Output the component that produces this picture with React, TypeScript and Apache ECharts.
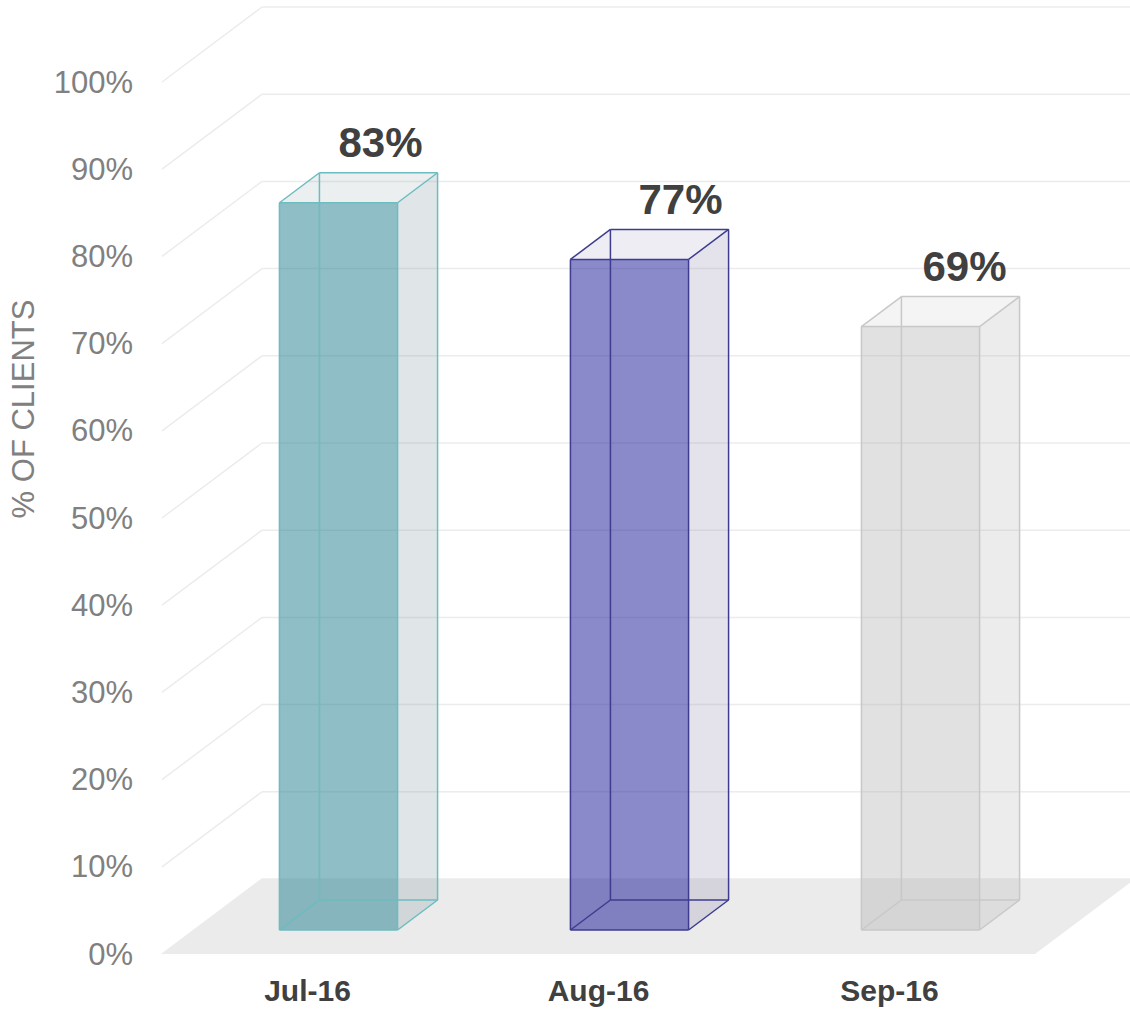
import React, { useEffect, useRef } from "react";
import * as echarts from "echarts";

const categories = ["Jul-16", "Aug-16", "Sep-16"];
const values = [83.4, 76.9, 69.2];
const yTicks = [0, 10, 20, 30, 40, 50, 60, 70, 80, 90, 100];
const yTitle = "% OF CLIENTS";

const frontFills = ["rgba(51,137,151,0.55)", "rgba(21,19,147,0.5)", "rgba(180,180,180,0.4)"];
const sideFills = ["rgba(131,155,159,0.25)", "rgba(147,143,179,0.25)", "rgba(180,180,180,0.25)"];
const topFills = ["rgba(131,155,159,0.16)", "rgba(147,143,179,0.16)", "rgba(180,180,180,0.15)"];
const strokes = ["#6cbcc0", "#3d3c8e", "#c8c8c8"];
const labelDx = [2, 11, 4];

const FONT = "'Liberation Sans', Arial, sans-serif";
const DX = 100;
const DY = -75;

export default function App() {
  const ref = useRef<HTMLDivElement>(null);
  useEffect(() => {
    if (!ref.current) return;
    const chart = echarts.init(ref.current, null, { renderer: "svg" });
    const option: any = {
      animation: false,
      grid: { left: 162, right: 95, top: 82, bottom: 57, containLabel: false, outerBoundsMode: "none" },
      graphic: [
        {
          type: "text",
          x: 23,
          y: 409,
          rotation: Math.PI / 2,
          style: {
            text: yTitle,
            font: "31px " + FONT,
            fill: "#808080",
            align: "center",
            verticalAlign: "middle",
          },
        },
      ],
      xAxis: {
        type: "category",
        data: categories,
        axisLine: { show: false },
        axisTick: { show: false },
        axisLabel: {
          margin: 21,
          fontSize: 30,
          fontWeight: "bold",
          color: "#404040",
          fontFamily: FONT,
        },
        splitLine: { show: false },
      },
      yAxis: {
        type: "value",
        min: 0,
        max: 100,
        interval: 10,
        axisLine: { show: false },
        axisTick: { show: false },
        splitLine: { show: false },
        axisLabel: {
          formatter: "{value}%",
          margin: 29,
          fontSize: 31,
          color: "#808080",
          fontFamily: FONT,
        },
      },
      series: [
        {
          type: "custom",
          z: 1,
          silent: true,
          data: yTicks.map((t) => [0, t]),
          renderItem: (params: any, api: any) => {
            const cs = params.coordSys;
            const y = api.coord([0, api.value(1)])[1];
            const x0 = cs.x;
            const x1 = cs.x + cs.width + DX;
            const st = { stroke: "#ececec", lineWidth: 1.5 };
            return {
              type: "group",
              children: [
                { type: "line", shape: { x1: x0, y1: y, x2: x0 + DX, y2: y + DY }, style: st },
                { type: "line", shape: { x1: x0 + DX, y1: y + DY, x2: x1, y2: y + DY }, style: st },
              ],
            };
          },
        },
        {
          type: "custom",
          z: 2,
          silent: true,
          data: [[0, 0]],
          renderItem: (params: any, api: any) => {
            const cs = params.coordSys;
            const y0 = api.coord([0, 0])[1];
            const x0 = cs.x;
            const x1 = cs.x + cs.width;
            return {
              type: "polygon",
              shape: {
                points: [
                  [x0, y0],
                  [x1, y0],
                  [x1 + DX, y0 + DY],
                  [x0 + DX, y0 + DY],
                ],
              },
              style: { fill: "#ebebeb" },
            };
          },
        },
        {
          type: "custom",
          z: 3,
          data: values.map((v, i) => [i, v]),
          renderItem: (params: any, api: any) => {
            const i = params.dataIndex;
            const v = api.value(1);
            const base = api.coord([api.value(0), 0]);
            const topY = api.coord([api.value(0), v])[1];
            const w = api.size([1, 0])[0] * 0.406;
            const fx = base[0] - w / 2 + 31;
            const fb = base[1] - 24;
            const ft = topY - 24;
            const bx = 40;
            const by = -30;
            const stroke = strokes[i];
            const es = { stroke, lineWidth: 1.5, fill: null };
            const L = (a: number[], b: number[]) => ({
              type: "line",
              shape: { x1: a[0], y1: a[1], x2: b[0], y2: b[1] },
              style: es,
            });
            const fTL = [fx, ft], fTR = [fx + w, ft], fBL = [fx, fb], fBR = [fx + w, fb];
            const bTL = [fx + bx, ft + by], bTR = [fx + w + bx, ft + by];
            const bBL = [fx + bx, fb + by], bBR = [fx + w + bx, fb + by];
            return {
              type: "group",
              children: [
                { type: "polygon", shape: { points: [fTR, bTR, bBR, fBR] }, style: { fill: sideFills[i] } },
                { type: "polygon", shape: { points: [fTL, fTR, bTR, bTL] }, style: { fill: topFills[i] } },
                { type: "rect", shape: { x: fx, y: ft, width: w, height: fb - ft }, style: { fill: frontFills[i] } },
                L(bTL, bBL), L(bBL, bBR), L(fBL, bBL),
                L(fTL, fTR), L(fTR, fBR), L(fBR, fBL), L(fBL, fTL),
                L(fTL, bTL), L(bTL, bTR), L(fTR, bTR), L(bTR, bBR), L(fBR, bBR),
                {
                  type: "text",
                  x: fx + w / 2 + bx + labelDx[i],
                  y: ft + by - 9,
                  style: {
                    text: Math.round(v) + "%",
                    font: "bold 42px " + FONT,
                    fill: "#404040",
                    align: "center",
                    verticalAlign: "bottom",
                  },
                },
              ],
            };
          },
        },
      ],
    };
    chart.setOption(option);
    return () => chart.dispose();
  }, []);
  return (
    <div
      ref={ref}
      style={{ position: "fixed", left: 0, top: 0, width: 1130, height: 1011, background: "#fff" }}
    />
  );
}
